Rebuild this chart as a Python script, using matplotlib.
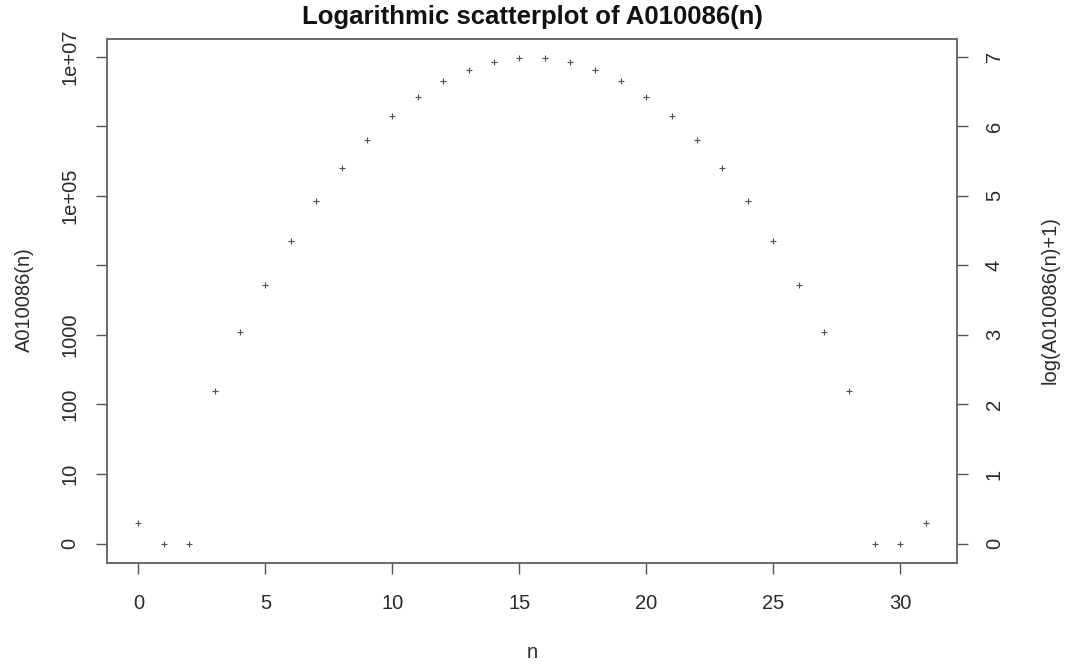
import numpy as np
import matplotlib
matplotlib.use("Agg")
import matplotlib.pyplot as plt

plt.rcParams['font.family'] = ['Liberation Sans', 'DejaVu Sans']

# A010086: weight distribution of the [31,26] Hamming code
n = list(range(32))
a010086 = [1, 0, 0, 155, 1085, 5208, 22568, 82615, 247845, 628680,
           1383096, 2648919, 4414865, 6440560, 8280720, 9398115,
           9398115, 8280720, 6440560, 4414865, 2648919, 1383096,
           628680, 247845, 82615, 22568, 5208, 1085, 155, 0, 0, 1]

left_ticks = [0, 1, 2, 3, 4, 5, 6, 7]
left_labels = ['0', '10', '100', '1000', '', '1e+05', '', '1e+07']
right_ticks = [0, 1, 2, 3, 4, 5, 6, 7]
x_ticks = [0, 5, 10, 15, 20, 25, 30]

logvals = np.log10(np.array(a010086) + 1)

fig = plt.figure(figsize=(10.67, 6.66), dpi=100)
ax = fig.add_axes([107 / 1067, 1 - 563 / 666, 850 / 1067, 524 / 666])

ax.scatter(n, logvals, marker='+', s=14, linewidths=0.8, color='#505050')

ax.set_xlim(-1.24, 32.24)
ymax = logvals.max()
ax.set_ylim(-0.04 * ymax, ymax * 1.04)

tick_fs = 14.5
txt_col = '#2a2a2a'
ax.set_xticks(x_ticks)
ax.set_xticklabels([str(t) for t in x_ticks], fontsize=tick_fs, color=txt_col)
ax.set_yticks(left_ticks)
ax.set_yticklabels(left_labels, fontsize=tick_fs, rotation=90, va='center', color=txt_col)
ax.tick_params(direction='out', length=8, width=1, color='#555555')
ax.tick_params(axis='x', pad=14)
ax.tick_params(axis='y', pad=12)

for sp in ax.spines.values():
    sp.set_color('#666666')
    sp.set_linewidth(1.1)

ax2 = ax.twinx()
ax2.set_ylim(ax.get_ylim())
ax2.set_yticks(right_ticks)
ax2.set_yticklabels([str(t) for t in right_ticks], fontsize=tick_fs, rotation=90, va='center', color=txt_col)
ax2.tick_params(direction='out', length=8, width=1, color='#555555', pad=12)
for sp in ax2.spines.values():
    sp.set_color('#666666')
    sp.set_linewidth(1.1)

ax.set_title('Logarithmic scatterplot of A010086(n)', fontsize=18.5, fontweight='bold',
             pad=11, color='#111111')
fig.text(24 / 1067, 1 - 300 / 666, 'A010086(n)', rotation=90, ha='center', va='center',
         fontsize=tick_fs, color=txt_col)
fig.text(1050 / 1067, 1 - 300 / 666, 'log(A010086(n)+1)', rotation=90, ha='center', va='center',
         fontsize=tick_fs, color=txt_col)
fig.text(532 / 1067, 1 - 652 / 666, 'n', ha='center', va='center', fontsize=tick_fs, color=txt_col)

fig.savefig('out.png', dpi=100)
